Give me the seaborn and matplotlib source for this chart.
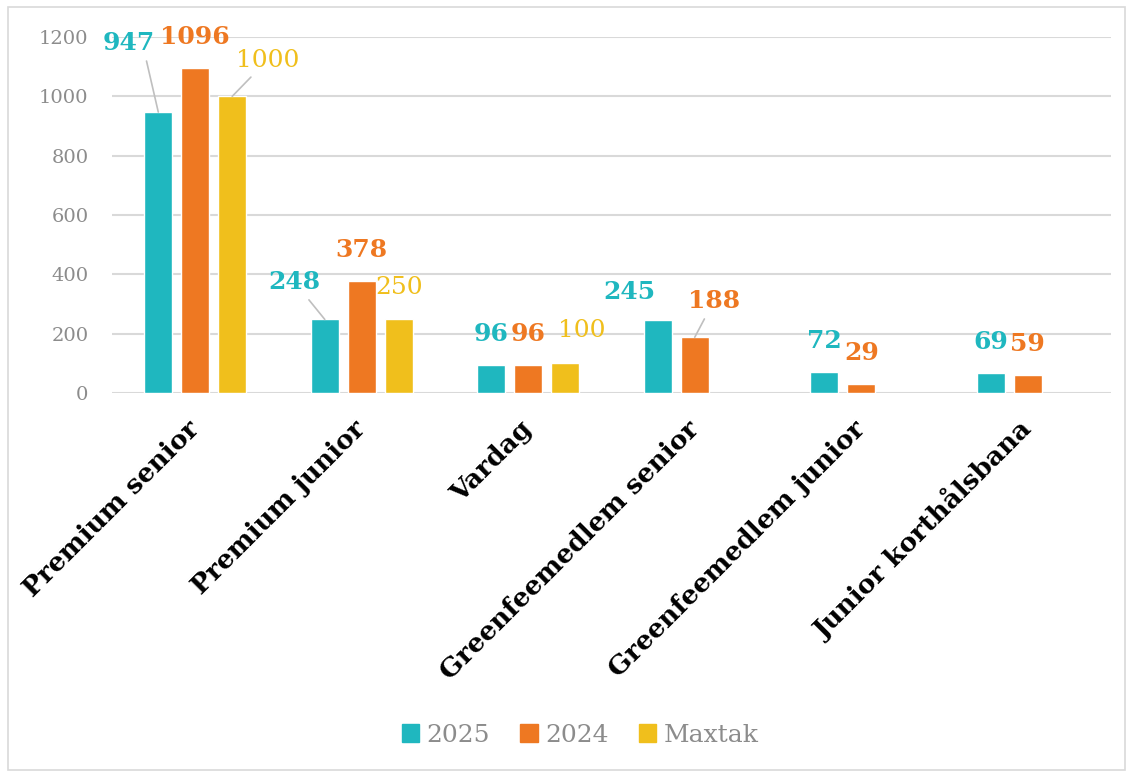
import numpy as np
import pandas as pd
import matplotlib
matplotlib.use("Agg")
import matplotlib.pyplot as plt
from matplotlib.patches import Rectangle
import seaborn as sns

categories = ["Premium senior", "Premium junior", "Vardag",
              "Greenfeemedlem senior", "Greenfeemedlem junior", "Junior korthålsbana"]
series = ["2025", "2024", "Maxtak"]
v2025 = [947, 248, 96, 245, 72, 69]
v2024 = [1096, 378, 96, 188, 29, 59]
vmax = [1000, 250, 100, np.nan, np.nan, np.nan]
colors = ["#1FB7BF", "#EE7822", "#F0BF1C"]
yticks = [0, 200, 400, 600, 800, 1000, 1200]

df = pd.DataFrame({
    "kategori": categories * 3,
    "serie": [s for s in series for _ in categories],
    "antal": v2025 + v2024 + vmax,
})

sns.set_theme(style="white")
plt.rcParams["font.family"] = ["DejaVu Serif"]

fig = plt.figure(figsize=(11.32, 7.74), dpi=100)
ax = fig.add_axes([112/1132, 1-393/774, 999/1132, 356/774])

sns.barplot(data=df, x="kategori", y="antal", hue="serie", order=categories,
            hue_order=series, palette=colors, width=0.666, gap=0.24,
            errorbar=None, saturation=1, ax=ax, legend=True)

ax.set_ylim(0, 1200)
ax.set_xlim(-0.5, 5.5)
ax.set_yticks(yticks)
ax.yaxis.grid(True, color="#D9D9D9", linewidth=1.5)
ax.set_axisbelow(True)
for s in ax.spines.values():
    s.set_visible(False)
ax.set_xlabel("")
ax.set_ylabel("")
ax.tick_params(axis="y", length=0, pad=17, labelsize=14, labelcolor="#8C8C8C")
ax.tick_params(axis="x", length=0, pad=23)
ax.set_xticks(range(len(categories)))
ax.set_xticklabels(categories, rotation=45, ha="right", va="center",
                   rotation_mode="anchor", fontsize=19, fontweight="bold", color="black")

# label offsets in pixels (dx, dy) from bar top; default is straight above
special = {
    ("2025", 0): (-30, 69, "angle,angleA=0,angleB=103"),
    ("Maxtak", 0): (35, 36, "arc3"),
    ("2025", 1): (-30, 37, "arc3"),
    ("Maxtak", 2): (17, 33, None),
    ("2025", 3): (-28, 28, None),
    ("2024", 3): (19, 36, "arc3"),
}
for cont, name, col in zip(ax.containers, series, colors):
    for bar in cont:
        h = bar.get_height()
        if np.isnan(h):
            continue
        x = bar.get_x() + bar.get_width() / 2
        i = int(round(x))
        dx, dy, conn = special.get((name, i), (0, 31, None))
        weight = "normal" if name == "Maxtak" else "bold"
        arrow = None
        if conn:
            arrow = dict(arrowstyle="-", color="#BFBFBF", lw=1.2, shrinkA=2, shrinkB=0,
                         connectionstyle=conn)
        ax.annotate(f"{int(h)}", xy=(x, h), xytext=(dx, dy), textcoords="offset pixels",
                    ha="center", va="center", fontsize=18, fontweight=weight, color=col,
                    arrowprops=arrow)

ax.legend_.remove()
handles = [Rectangle((0, 0), 1, 1, color=c) for c in colors]
fig.legend(handles, series, loc="center", bbox_to_anchor=(580/1132, 1-735/774), ncol=3,
           frameon=False, fontsize=18, labelcolor="#8C8C8C", handlelength=0.7,
           handleheight=0.7, handletextpad=0.3, columnspacing=1.2)

fig.add_artist(Rectangle((8/1132, 4/774), 1117/1132, 763/774, transform=fig.transFigure,
                         fill=False, edgecolor="#D9D9D9", linewidth=1.2))

fig.savefig("out.png", dpi=100)
